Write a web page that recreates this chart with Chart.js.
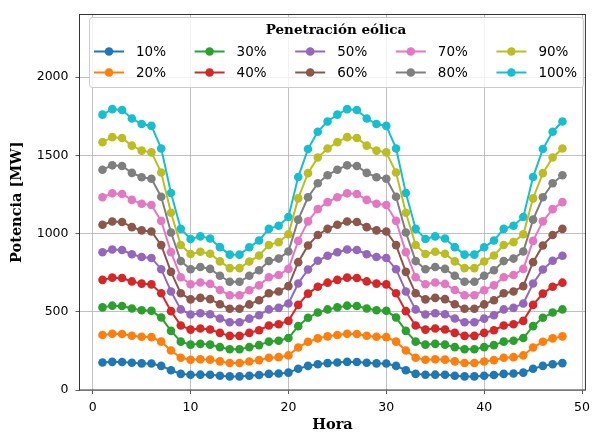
<!DOCTYPE html>
<html lang="es">
<head>
<meta charset="UTF-8">
<title>Potencia</title>
<script src="https://cdn.jsdelivr.net/npm/chart.js@4.4.1/dist/chart.umd.min.js"></script>
<style>
  html, body { margin: 0; padding: 0; background: #fff; }
  #wrap { width: 596px; height: 434px; position: relative; }
</style>
</head>
<body>
<div id="wrap"><canvas id="chart" width="596" height="434"></canvas></div>
<script>
const hours = [1,2,3,4,5,6,7,8,9,10,11,12,13,14,15,16,17,18,19,20,21,22,23,24,
               25,26,27,28,29,30,31,32,33,34,35,36,37,38,39,40,41,42,43,44,45,46,47,48];

const p10 = [176,180,179,174,170,169,154,126,103,97,98,97,91,87,87,91,96,103,105,111,136,154,165,172,
             176,180,179,174,170,169,154,126,103,97,98,97,91,87,87,91,96,103,105,111,136,154,165,172];
const p20 = [352,359,358,347,340,338,309,252,206,193,196,194,183,173,173,182,191,206,210,221,272,308,330,343,
             352,359,358,347,340,338,309,252,206,193,196,194,183,173,173,182,191,206,210,221,272,308,330,343];
const p30 = [528,539,537,521,510,506,463,378,309,290,295,290,274,260,260,274,287,309,315,332,408,462,495,515,
             528,539,537,521,510,506,463,378,309,290,295,290,274,260,260,274,287,309,315,332,408,462,495,515];
const p40 = [704,718,716,694,680,675,618,504,412,386,393,387,365,346,346,365,382,412,420,442,544,616,660,686,
             704,718,716,694,680,675,618,504,412,386,393,387,365,346,346,365,382,412,420,442,544,616,660,686];
const p50 = [880,898,895,868,850,844,772,630,515,483,491,484,457,433,433,456,478,515,525,553,681,770,826,858,
             880,898,895,868,850,844,772,630,515,483,491,484,457,433,433,456,478,515,525,553,681,770,826,858];
const p60 = [1056,1077,1074,1041,1020,1013,926,755,618,579,589,581,548,519,519,547,574,618,630,664,817,924,991,1030,
             1056,1077,1074,1041,1020,1013,926,755,618,579,589,581,548,519,519,547,574,618,630,664,817,924,991,1030];
const p70 = [1232,1257,1253,1215,1190,1182,1081,881,721,676,687,678,639,606,606,638,669,721,735,774,953,1078,1156,1201,
             1232,1257,1253,1215,1190,1182,1081,881,721,676,687,678,639,606,606,638,669,721,735,774,953,1078,1156,1201];
const p80 = [1408,1436,1432,1388,1360,1350,1235,1007,824,772,786,774,730,692,692,730,765,824,840,885,1089,1232,1321,1373,
             1408,1436,1432,1388,1360,1350,1235,1007,824,772,786,774,730,692,692,730,765,824,840,885,1089,1232,1321,1373];
const p90 = [1584,1616,1611,1562,1530,1519,1390,1133,927,869,884,871,822,779,779,821,860,927,945,995,1225,1386,1486,1544,
             1584,1616,1611,1562,1530,1519,1390,1133,927,869,884,871,822,779,779,821,860,927,945,995,1225,1386,1486,1544];
const p100 = [1760,1795,1790,1735,1700,1688,1544,1259,1030,965,982,968,913,865,865,912,956,1030,1050,1106,1361,1540,1651,1716,
              1760,1795,1790,1735,1700,1688,1544,1259,1030,965,982,968,913,865,865,912,956,1030,1050,1106,1361,1540,1651,1716];

const labels = ['10%','20%','30%','40%','50%','60%','70%','80%','90%','100%'];
const series = [p10,p20,p30,p40,p50,p60,p70,p80,p90,p100];
const colors = ['#1f77b4','#ff7f0e','#2ca02c','#d62728','#9467bd','#8c564b','#e377c2','#7f7f7f','#bcbd22','#17becf'];

const xTicks = [0,10,20,30,40,50];
const yTicks = [0,500,1000,1500,2000];

const datasets = series.map((vals, i) => ({
  label: labels[i],
  data: hours.map((h, j) => ({x: h, y: vals[j]})),
  borderColor: colors[i],
  backgroundColor: colors[i],
  borderWidth: 2,
  pointRadius: 4.3,
  pointHoverRadius: 4.3,
  pointBorderWidth: 0,
  tension: 0
}));

// legend drawn inside the plot, matplotlib style (column major, 2 rows)
const legendBox = {
  id: 'legendBox',
  afterDraw(chart) {
    const ctx = chart.ctx;
    ctx.save();
    const bx = 89.5, by = 17.5, bw = 494, bh = 70;
    ctx.beginPath();
    ctx.roundRect(bx, by, bw, bh, 3);
    ctx.fillStyle = 'rgba(255,255,255,0.8)';
    ctx.fill();
    ctx.strokeStyle = '#cccccc';
    ctx.lineWidth = 1;
    ctx.stroke();

    ctx.fillStyle = '#000';
    ctx.font = 'bold 13.5px "DejaVu Serif"';
    ctx.textAlign = 'center';
    ctx.textBaseline = 'middle';
    ctx.fillText('Penetración eólica', 336, 30);

    ctx.font = '13.5px "DejaVu Sans"';
    ctx.textAlign = 'left';
    labels.forEach((lab, i) => {
      const col = Math.floor(i / 2), row = i % 2;
      const x0 = 94 + col * 100.6;
      const y0 = row === 0 ? 51.5 : 72.5;
      ctx.strokeStyle = colors[i];
      ctx.lineWidth = 2;
      ctx.beginPath();
      ctx.moveTo(x0, y0);
      ctx.lineTo(x0 + 30, y0);
      ctx.stroke();
      ctx.fillStyle = colors[i];
      ctx.beginPath();
      ctx.arc(x0 + 15, y0, 4.3, 0, Math.PI * 2);
      ctx.fill();
      ctx.fillStyle = '#000';
      ctx.fillText(lab, x0 + 42, y0 + 0.5);
    });
    ctx.restore();
  }
};

// full frame around the axes
const frame = {
  id: 'frame',
  afterDatasetsDraw(chart) {
    const a = chart.chartArea, ctx = chart.ctx;
    ctx.save();
    ctx.strokeStyle = '#333';
    ctx.lineWidth = 1;
    ctx.strokeRect(a.left, a.top, a.right - a.left, a.bottom - a.top);
    ctx.restore();
  }
};

new Chart(document.getElementById('chart'), {
  type: 'line',
  data: { datasets: datasets },
  plugins: [frame, legendBox],
  options: {
    responsive: false,
    animation: false,
    events: [],
    layout: { padding: { top: 9.5, right: 6.5, left: 0, bottom: 0 } },
    plugins: { legend: { display: false }, tooltip: { enabled: false } },
    scales: {
      x: {
        type: 'linear',
        min: -1.35,
        max: 50.35,
        afterBuildTicks: s => { s.ticks = xTicks.map(v => ({value: v})); },
        afterFit: s => { s.height = 44; },
        grid: { color: '#b0b0b0', lineWidth: 0.8, tickColor: '#333', tickLength: 4 },
        border: { display: false },
        ticks: { color: '#000', font: { family: 'DejaVu Sans', size: 12.5 }, padding: 6,
                 maxRotation: 0, callback: v => String(v) },
        title: { display: true, text: 'Hora', color: '#000',
                 font: { family: 'DejaVu Serif', size: 14.5, weight: 'bold' },
                 padding: { top: 0.4, bottom: 0.4 } }
      },
      y: {
        type: 'linear',
        min: 0,
        max: 2400,
        afterBuildTicks: s => { s.ticks = yTicks.map(v => ({value: v})); },
        afterFit: s => { s.width = 79.5; },
        grid: { color: '#b0b0b0', lineWidth: 0.8, tickColor: '#333', tickLength: 4 },
        border: { display: false },
        ticks: { color: '#000', font: { family: 'DejaVu Sans', size: 12.5 }, padding: 7,
                 callback: v => String(v) },
        title: { display: true, text: 'Potencia [MW]', color: '#000',
                 font: { family: 'DejaVu Serif', size: 14.5, weight: 'bold' },
                 padding: { top: 8.4, bottom: 8.4 } }
      }
    }
  }
});
</script>
</body>
</html>
